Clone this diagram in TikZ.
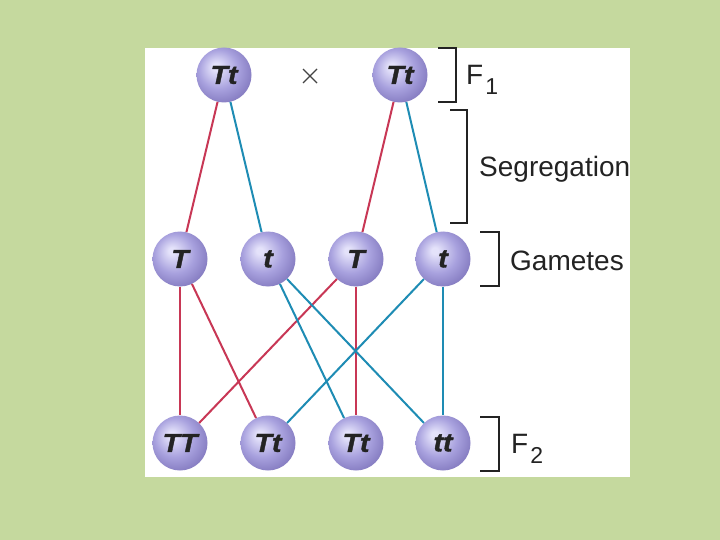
\documentclass[tikz,border=0pt]{standalone}
\usepackage{fontspec}
\setmainfont{Liberation Sans}
\newfontface\sphfont[FakeBold=1.3]{Liberation Sans Bold Italic}
\definecolor{bg}{RGB}{197,217,158}
\definecolor{redl}{RGB}{200,55,85}
\definecolor{bluel}{RGB}{30,140,180}
\definecolor{sphhi}{RGB}{228,226,250}
\definecolor{sphmid}{RGB}{168,161,222}
\definecolor{sphdark}{RGB}{120,110,182}
\definecolor{ink}{RGB}{35,35,35}
\pgfdeclareradialshading{gsphere}{\pgfpoint{-8bp}{8bp}}{color(0bp)=(sphhi); color(3bp)=(sphhi); color(18bp)=(sphmid); color(34bp)=(sphdark); color(50bp)=(sphdark)}
\newcommand{\gt}[1]{\scalebox{1.1}[1]{#1}}
\tikzset{
  sph/.style={circle, minimum size=55pt, inner sep=0pt, shading=gsphere, text=ink,
    font=\fontsize{26}{28}\sphfont},
  rl/.style={draw=redl, line width=2pt},
  bl/.style={draw=bluel, line width=2pt},
  brk/.style={draw=ink, line width=1.3pt},
  lab/.style={anchor=base west, inner sep=0pt, text=ink, font=\fontsize{28}{30}\selectfont}
}
\begin{document}
\begin{tikzpicture}[x=1pt,y=-1pt]
\useasboundingbox (0,0) rectangle (720,540);
\fill[bg] (0,0) rectangle (720,540);
\fill[white] (145,48) rectangle (630,477);
% nodes
\node[sph] (p1) at (224,75) {\gt{Tt}};
\node[sph] (p2) at (400,75) {\gt{Tt}};
\node[sph] (g1) at (180,259) {\gt{T}};
\node[sph] (g2) at (268,259) {\gt{t}};
\node[sph] (g3) at (356,259) {\gt{T}};
\node[sph] (g4) at (443,259) {\gt{t}};
\node[sph] (f1) at (180,443) {\gt{TT}};
\node[sph] (f2) at (268,443) {\gt{Tt}};
\node[sph] (f3) at (356,443) {\gt{Tt}};
\node[sph] (f4) at (443,443) {\gt{tt}};
\coordinate (cx) at (310,76);
\draw[draw=ink!85, line width=1.1pt] ([shift={(-7,-7)}]cx) -- ([shift={(7,7)}]cx)
  ([shift={(-7,7)}]cx) -- ([shift={(7,-7)}]cx);
% connectors
\draw[rl] (p1) -- (g1);
\draw[bl] (p1) -- (g2);
\draw[rl] (p2) -- (g3);
\draw[bl] (p2) -- (g4);
\draw[rl] (g1) -- (f1);
\draw[rl] (g1) -- (f2);
\draw[rl] (g3) -- (f1);
\draw[rl] (g3) -- (f3);
\draw[bl] (g2) -- (f3);
\draw[bl] (g2) -- (f4);
\draw[bl] (g4) -- (f2);
\draw[bl] (g4) -- (f4);
% brackets
\draw[brk] (438,48) -- (456,48) -- (456,102) -- (438,102);
\draw[brk] (450,110) -- (467,110) -- (467,223) -- (450,223);
\draw[brk] (480,232) -- (499,232) -- (499,286) -- (480,286);
\draw[brk] (480,417) -- (499,417) -- (499,471) -- (480,471);
% labels
\node[lab] (lf1) at (466,85) {F\hspace{2pt}\raisebox{-10pt}{\fontsize{23}{23}\selectfont 1}};
\node[lab] (lseg) at (479,177) {Segregation};
\node[lab] (lgam) at (510,270) {Gametes};
\node[lab] (lf2) at (511,453) {F\hspace{2pt}\raisebox{-10pt}{\fontsize{23}{23}\selectfont 2}};
\end{tikzpicture}
\end{document}
